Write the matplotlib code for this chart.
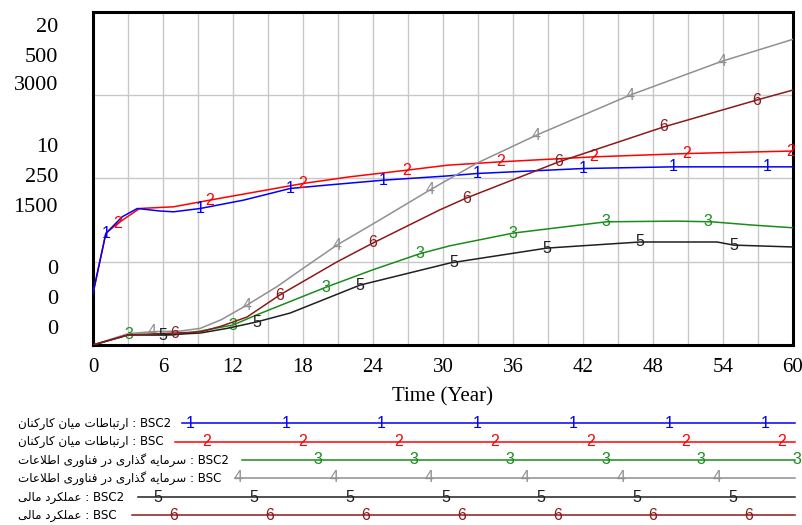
import numpy as np
import matplotlib
matplotlib.use('Agg')
import matplotlib.pyplot as plt
from matplotlib.lines import Line2D

# --- datos (Vensim) ---
years = np.arange(0, 61, 6)

t1 = [0, 1.1, 2.5, 3.8, 5.7, 6.9, 9.2, 12.9, 16.9, 20, 24.9, 30.3, 32.9, 42, 49.7, 60]
v1 = [3.1, 6.7, 7.7, 8.2, 8.05, 8.0, 8.2, 8.7, 9.4, 9.6, 9.9, 10.15, 10.3, 10.6, 10.7, 10.7]

t2 = [0, 1.1, 2.1, 4, 6.9, 10, 14, 18, 22, 26.9, 30.4, 34.9, 42.9, 50.9, 60]
v2 = [3.1, 6.7, 7.3, 8.2, 8.3, 8.7, 9.2, 9.7, 10.1, 10.5, 10.8, 11.0, 11.3, 11.5, 11.65]

t3 = [0, 3.1, 6.9, 9.2, 12, 14, 17, 20, 24, 28, 30.6, 36, 44, 50, 53, 56.6, 60]
v3 = [0, 16, 15, 21, 30, 45, 66, 87, 113, 137, 149, 168, 185, 186, 185, 180, 176]

t4 = [0, 3, 5.1, 7.5, 9.2, 11, 13.2, 15.8, 18, 20.9, 24.6, 28.9, 32.9, 38, 46, 53.9, 60]
v4 = [0, 17, 20, 21, 25, 38, 60, 88, 115, 150, 188, 233, 273, 315, 375, 426, 459]

t5 = [0, 3, 6, 9.2, 11.5, 14, 16.9, 22.9, 30.6, 38.9, 46.9, 53.5, 54.9, 60]
v5 = [0, 90, 90, 108, 150, 207, 288, 540, 739, 873, 928, 928, 900, 883]

t6 = [0, 3, 7, 9.2, 11, 13.2, 16, 20.9, 24, 29.7, 32, 39.9, 48.9, 56.9, 60]
v6 = [0, 90, 108, 117, 170, 252, 450, 748, 919, 1216, 1324, 1649, 1964, 2207, 2297]

scale_max = [20, 500, 3000]
scale_mid = [10, 250, 1500]
scale_min = [0, 0, 0]

var_names = ['ارتباطات میان کارکنان', 'سرمایه گذاری در فناوری اطلاعات', 'عملکرد مالی']
runs = ['BSC2', 'BSC']

# posiciones de los numeros sobre las curvas (estilo Vensim)
marks = [
    [1.1, 9.2, 16.9, 24.9, 32.9, 42, 49.7, 57.8],
    [2.1, 10, 18, 26.9, 34.9, 42.9, 50.9, 59.8],
    [3.1, 12, 20, 28, 36, 44, 52.7],
    [5.1, 13.2, 20.9, 28.9, 38, 46, 53.9],
    [6, 14, 22.9, 30.9, 38.9, 46.9, 54.9],
    [7, 16, 24, 32, 39.9, 48.9, 56.9],
]
colors = ['#0000ff', '#ff0000', '#1a8c1a', '#909090', '#202020', '#8b1a1a']


# Formas de presentacion arabes (aislada, final, inicial, medial)
FORMS = {
    'ا': (0xFE8D, 0xFE8E, None, None), 'ب': (0xFE8F, 0xFE90, 0xFE91, 0xFE92),
    'ت': (0xFE95, 0xFE96, 0xFE97, 0xFE98), 'ط': (0xFEC1, 0xFEC2, 0xFEC3, 0xFEC4),
    'م': (0xFEE1, 0xFEE2, 0xFEE3, 0xFEE4), 'ن': (0xFEE5, 0xFEE6, 0xFEE7, 0xFEE8),
    'ر': (0xFEAD, 0xFEAE, None, None), 'ذ': (0xFEAB, 0xFEAC, None, None),
    'د': (0xFEA9, 0xFEAA, None, None), 'س': (0xFEB1, 0xFEB2, 0xFEB3, 0xFEB4),
    'ه': (0xFEE9, 0xFEEA, 0xFEEB, 0xFEEC), 'ف': (0xFED1, 0xFED2, 0xFED3, 0xFED4),
    'و': (0xFEED, 0xFEEE, None, None), 'ل': (0xFEDD, 0xFEDE, 0xFEDF, 0xFEE0),
    'ع': (0xFEC9, 0xFECA, 0xFECB, 0xFECC), 'ک': (0xFB8E, 0xFB8F, 0xFB90, 0xFB91),
    'گ': (0xFB92, 0xFB93, 0xFB94, 0xFB95), 'ی': (0xFBFC, 0xFBFD, 0xFBFE, 0xFBFF),
}


def shape_rtl(text):
    out = []
    i = 0
    n = len(text)
    while i < n:
        ch = text[i]
        if ch not in FORMS:
            out.append(ch)
            i += 1
            continue
        prev = i > 0 and text[i - 1] in FORMS and FORMS[text[i - 1]][2] is not None
        if ch == 'ل' and i + 1 < n and text[i + 1] == 'ا':
            out.append(chr(0xFEFC if prev else 0xFEFB))
            i += 2
            continue
        nxt = FORMS[ch][2] is not None and i + 1 < n and text[i + 1] in FORMS
        f = FORMS[ch]
        if prev and nxt:
            out.append(chr(f[3]))
        elif prev:
            out.append(chr(f[1]))
        elif nxt:
            out.append(chr(f[2]))
        else:
            out.append(chr(f[0]))
        i += 1
    return ''.join(reversed(out))


plt.rcParams['font.family'] = 'Liberation Serif'
W, H = 803, 525
fig = plt.figure(figsize=(W / 100, H / 100), dpi=100)
ax = fig.add_axes([93 / W, 1 - 345 / H, 700 / W, 333 / H])
ax2 = ax.twinx()
ax3 = ax.twinx()

ax.set_xlim(0, 60)
ax.set_ylim(scale_min[0], scale_max[0])
ax2.set_ylim(scale_min[1], scale_max[1])
ax3.set_ylim(scale_min[2], scale_max[2])

ax.set_xticks(years)
ax.set_xticks(np.arange(0, 61, 3), minor=True)
ax.set_yticks(np.linspace(0, scale_max[0], 5))
ax.set_yticklabels([])
ax.grid(True, which='both', color='#c8c8c8', lw=1.0)
ax.tick_params(which='both', length=0)
ax.tick_params(axis='x', labelsize=15, pad=9)
ax.set_xlabel('Time (Year)', fontsize=15, labelpad=8)
for s in ax.spines.values():
    s.set_linewidth(2.2)
    s.set_color('black')
for a in (ax2, ax3):
    a.set_yticks([])
    for s in a.spines.values():
        s.set_visible(False)

num_font = 'Liberation Sans'
series = [(ax, t1, v1), (ax, t2, v2), (ax2, t3, v3), (ax2, t4, v4), (ax3, t5, v5), (ax3, t6, v6)]
for k, (a, tx, vx) in enumerate(series):
    a.plot(tx, vx, color=colors[k], lw=1.1, zorder=3 if k != 0 else 4)
    for tm in marks[k]:
        a.text(tm, np.interp(tm, tx, vx), str(k + 1), color=colors[k], fontsize=11.5,
               family=num_font, ha='center', va='center', zorder=5)

# etiquetas de las tres escalas del eje y
stack_y = [[27, 57, 86], [148, 178, 207], [270, 300, 330]]
stacks = [[str(v) for v in scale_max], [str(v) for v in scale_mid], [str(v) for v in scale_min]]
for ys, labs in zip(stack_y, stacks):
    for y, lab in zip(ys, labs):
        fig.text(58 / W, 1 - y / H, lab, ha='right', va='center', fontsize=16)

# leyenda estilo Vensim
row_y = [423, 442, 460, 478, 497, 515]
line_x0 = [182, 175, 242, 235, 138, 132]
mark_x0 = [190, 207, 318, 238, 158, 174]
for k in range(6):
    name = var_names[k // 2]
    run = runs[k % 2]
    label = shape_rtl(name) + ' : ' + run
    yf = 1 - row_y[k] / H
    fig.text(18 / W, yf, label, ha='left', va='center', fontsize=8.6, family='DejaVu Sans')
    fig.add_artist(Line2D([line_x0[k] / W, 795 / W], [yf, yf], color=colors[k], lw=1.1,
                          transform=fig.transFigure))
    xm = mark_x0[k]
    while xm <= 798:
        fig.text(xm / W, yf, str(k + 1), color=colors[k], fontsize=11.5, family=num_font,
                 ha='center', va='center')
        xm += 95.8

fig.savefig('out.png', dpi=100)
